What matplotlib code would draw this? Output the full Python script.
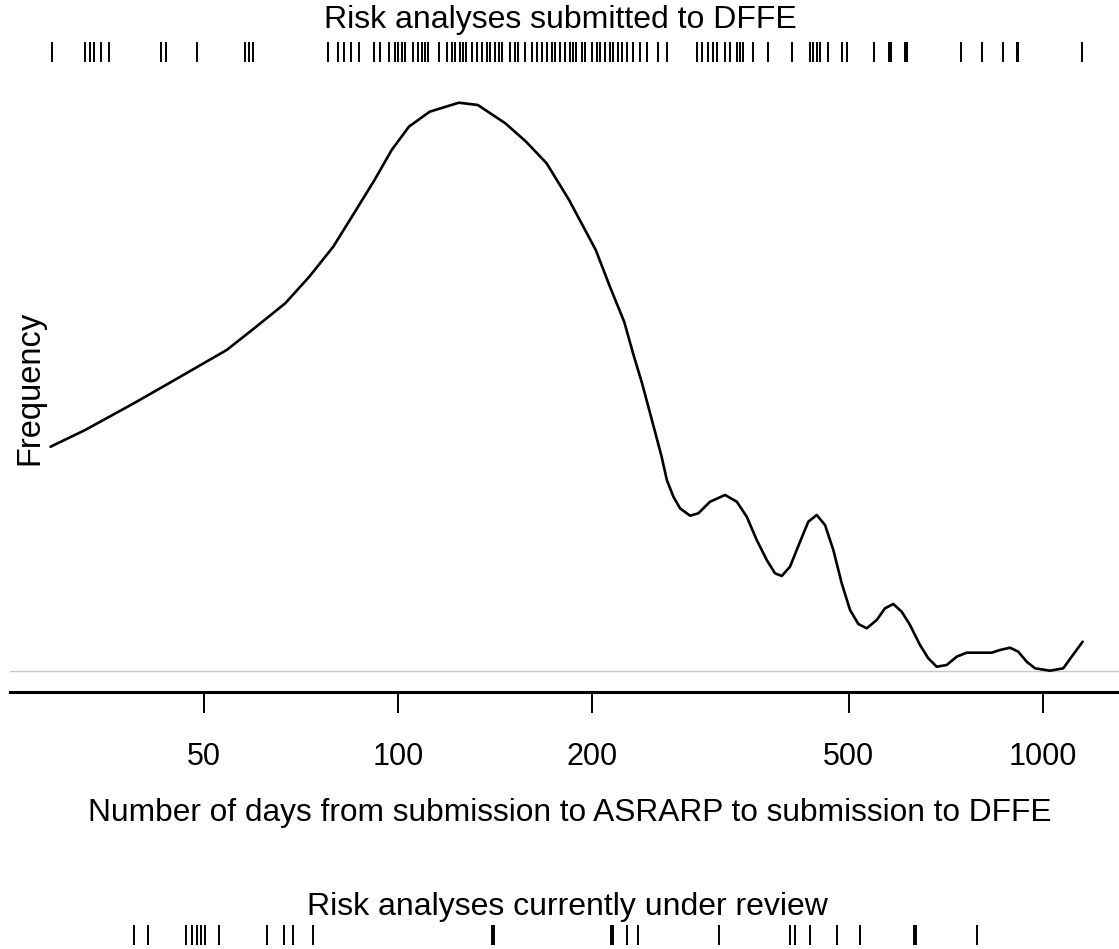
import matplotlib
matplotlib.use("Agg")
import matplotlib.pyplot as plt
from matplotlib.ticker import NullLocator

plt.rcParams['font.family'] = ['Liberation Sans', 'DejaVu Sans']

# density curve (days, relative frequency)
curve_days = [28.9, 32.7, 38.9, 45.0, 54.2, 59.8, 66.8, 72.8, 79.3, 85.4,
              91.9, 97.7, 103.9, 111.9, 124.2, 132.9, 146.6, 157.9, 169.9, 184.1,
              202.5, 213.1, 224.2, 231.5, 238.9, 245.1, 251.4, 256.2, 261.0, 267.2,
              273.6, 283.6, 292.1, 304.6, 321.3, 335.1, 347.2, 359.8, 372.9, 384.1,
              393.4, 405.2, 420.0, 432.6, 445.8, 459.2, 473.0, 487.4, 502.1, 517.2,
              532.9, 552.3, 568.9, 586.0, 603.8, 622.0, 644.6, 664.0, 684.2, 709.0,
              734.8, 761.4, 798.4, 832.5, 857.7, 888.9, 915.6, 943.5, 971.9, 1025.3,
              1075.2, 1107.9, 1152.3]
curve_freq = [2.243, 2.41, 2.677, 2.91, 3.21, 3.427, 3.677, 3.943, 4.243, 4.577,
              4.91, 5.21, 5.443, 5.593, 5.683, 5.66, 5.477, 5.293, 5.077, 4.71,
              4.21, 3.84, 3.49, 3.17, 2.877, 2.61, 2.343, 2.143, 1.91, 1.743,
              1.627, 1.553, 1.577, 1.693, 1.76, 1.693, 1.543, 1.31, 1.11, 0.977,
              0.95, 1.043, 1.293, 1.493, 1.56, 1.46, 1.21, 0.877, 0.61, 0.47,
              0.427, 0.51, 0.627, 0.67, 0.593, 0.46, 0.26, 0.127, 0.043, 0.06,
              0.143, 0.183, 0.183, 0.183, 0.21, 0.233, 0.193, 0.093, 0.027, 0.003,
              0.027, 0.143, 0.293]

# rug: risk analyses submitted to DFFE (days)
submitted = [29.0, 32.7, 33.3, 33.7, 34.6, 35.6, 42.9, 43.7, 48.8, 57.8, 58.8, 59.5,
             77.8, 80.8, 82.3, 84.6, 86.8, 91.6, 93.8, 96.6, 98.9, 100.0, 101.3,
             102.5, 105.6, 107.5, 108.8, 110.1, 111.4, 115.5, 119.0, 121.1, 122.6,
             124.8, 126.1, 127.5, 130.1, 132.4, 134.8, 137.3, 138.9, 141.4, 143.1,
             144.8, 149.2, 151.8, 153.6, 157.3, 161.2, 164.1, 167.0, 170.0, 173.1,
             175.1, 178.3, 181.5, 184.8, 186.8, 188.8, 192.7, 195.0, 199.7, 203.3,
             205.7, 209.4, 213.2, 215.7, 219.6, 222.3, 226.3, 231.7, 237.3, 243.0,
             253.3, 261.0, 290.4, 295.7, 302.8, 307.9, 312.0, 321.4, 327.2, 335.1,
             339.1, 342.7, 355.5, 374.0, 408.7, 435.4, 439.6, 445.9, 451.1, 464.6,
             487.5, 497.4, 547.0, 577.8, 580.7, 611.1, 616.2, 745.3, 803.5, 867.9,
             910.5, 913.8, 1148.1]

# rug: risk analyses currently under review (days)
under_review = [38.9, 40.9, 46.8, 47.9, 48.8, 49.5, 50.1, 52.7, 62.6, 66.4, 68.8, 73.9,
                140.0, 141.0, 214.0, 215.0, 226.3, 235.8, 313.9, 405.3, 412.6, 435.4,
                478.7, 520.4, 632.0, 634.5, 789.4]

tick_vals = [50, 100, 200, 500, 1000]
tick_labels = ["50", "100", "200", "500", "1000"]

W, H = 1119, 949
fig = plt.figure(figsize=(W / 100, H / 100), dpi=100)
xlim = (25.0, 1312.0)
left = 10 / W

def fy(px):
    return 1 - px / H

ax = fig.add_axes([left, fy(692), 1 - left, (692 - 80) / H])
ax.plot(curve_days, curve_freq, color="black", lw=1.9,
        solid_joinstyle="round", solid_capstyle="round")
ax.axhline(0, color="#c8c8c8", lw=1.0, zorder=0)
ax.set_xscale("log")
ax.set_xlim(*xlim)
ax.set_ylim(-0.21, 5.91)
ax.set_xticks(tick_vals)
ax.set_xticklabels(tick_labels)
ax.xaxis.set_minor_locator(NullLocator())
ax.set_yticks([])
for s in ["top", "left", "right"]:
    ax.spines[s].set_visible(False)
ax.spines["bottom"].set_linewidth(2.2)
ax.tick_params(axis="x", length=15, width=1.4, pad=21, labelsize=22)

fig.text(30 / W, fy(388), "Frequency", rotation=90, ha="center", va="center", fontsize=23.5)
fig.text(570 / W, fy(821), "Number of days from submission to ASRARP to submission to DFFE",
         ha="center", va="baseline", fontsize=22.8)

def rug(ypx_top, values):
    r = fig.add_axes([left, fy(ypx_top + 20), 1 - left, 20 / H])
    r.set_xscale("log")
    r.set_xlim(*xlim)
    r.set_ylim(0, 1)
    r.vlines(values, 0, 1, color="black", lw=1.4)
    r.axis("off")
    return r

rug(42, submitted)
fig.text(560 / W, fy(28), "Risk analyses submitted to DFFE", ha="center", va="baseline", fontsize=23)
rug(925, under_review)
fig.text(567 / W, fy(915), "Risk analyses currently under review", ha="center", va="baseline", fontsize=23)

fig.savefig("out.png", dpi=100)
